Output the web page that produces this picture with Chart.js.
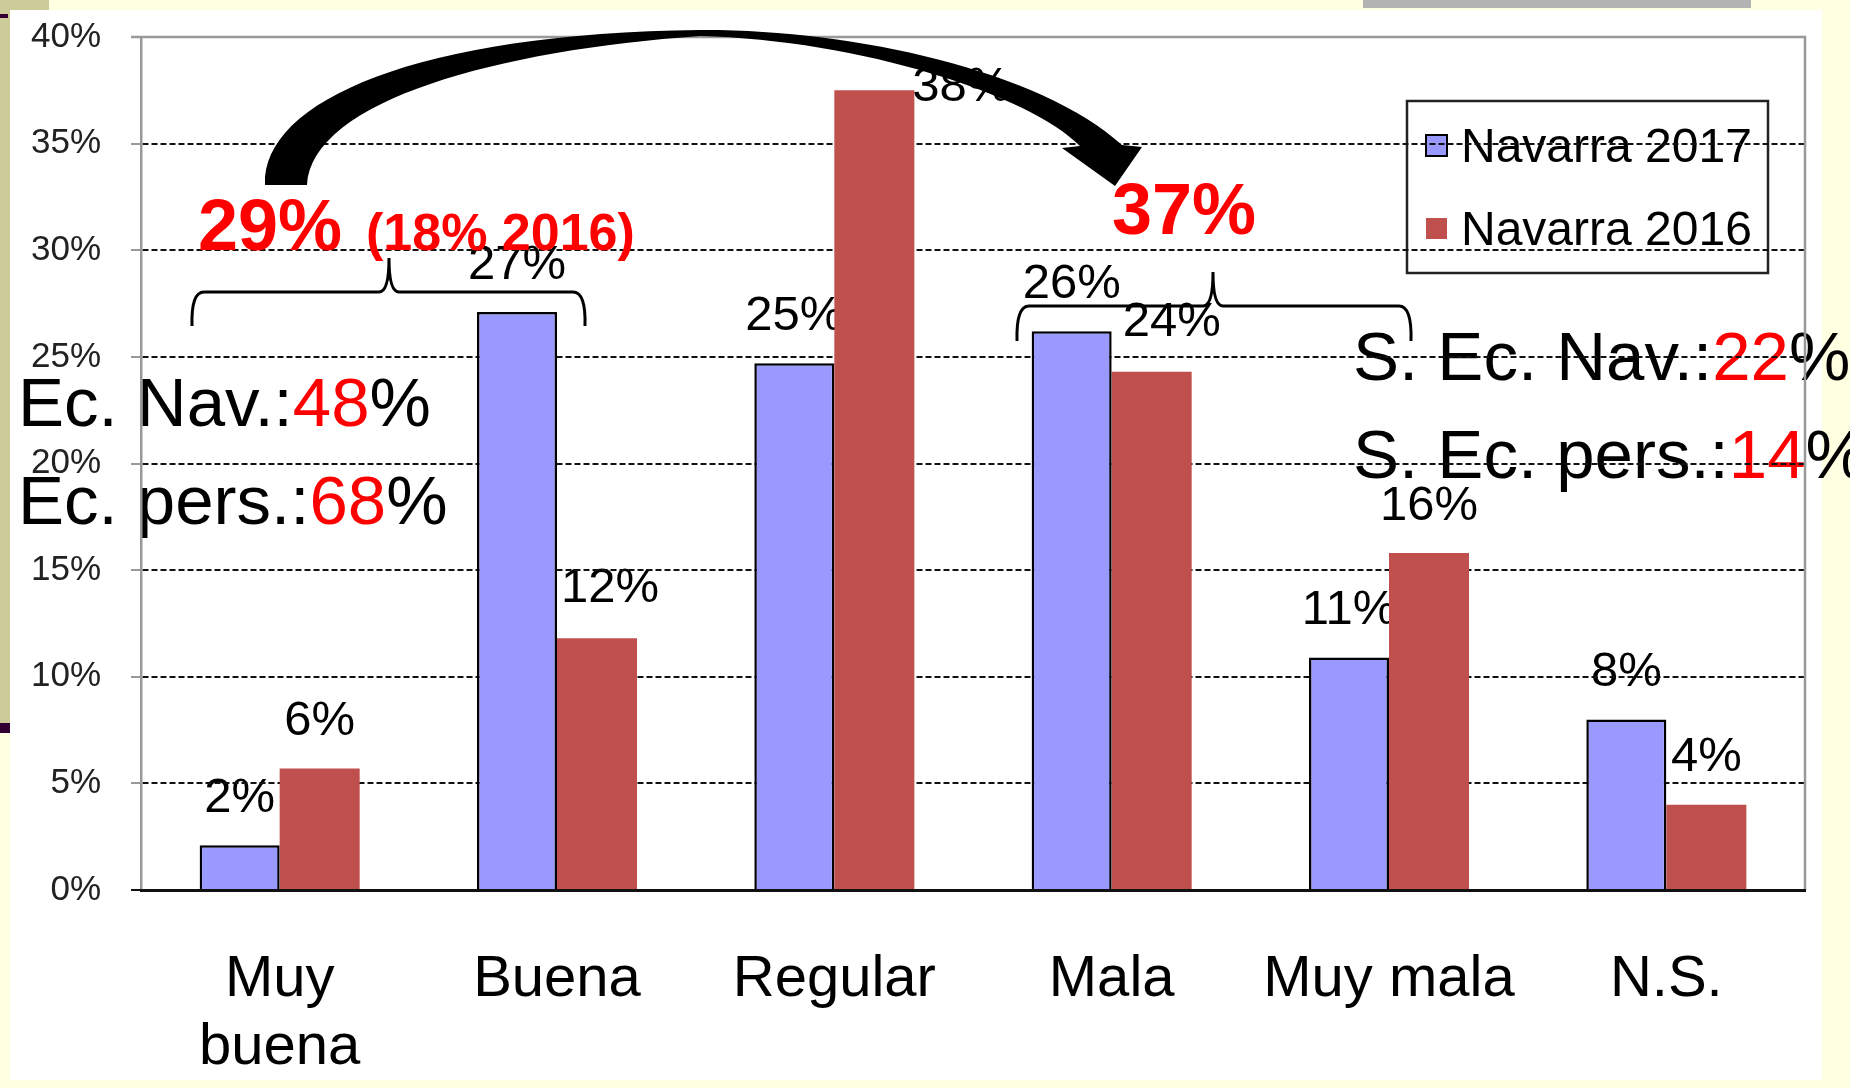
<!DOCTYPE html>
<html><head><meta charset="utf-8">
<script src="https://cdn.jsdelivr.net/npm/chart.js@4.4.0/dist/chart.umd.min.js"></script>
<style>
html,body{margin:0;padding:0;background:#FFFFE1;}
#wrap{position:relative;width:1850px;height:1088px;overflow:hidden;}
.d{position:absolute;}
canvas{position:absolute;left:0;top:0;}
</style></head><body>
<div id="wrap">
<div class="d" style="left:10px;top:10px;width:1812px;height:1070px;background:#fff"></div>
<div class="d" style="left:0;top:0;width:10px;height:723px;background:#CCCC99"></div>
<div class="d" style="left:0;top:0;width:49px;height:10px;background:#CCCC99"></div>
<div class="d" style="left:0;top:723px;width:10px;height:10px;background:#330033"></div>
<div class="d" style="left:0;top:14px;width:8px;height:4px;background:#330033"></div>
<div class="d" style="left:1363px;top:0;width:388px;height:8px;background:#B3B3B3"></div>
<canvas id="c" width="1850" height="1088"></canvas>
</div>
<script>
// ---- data ----
const categories = [['Muy','buena'], 'Buena', 'Regular', 'Mala', 'Muy mala', 'N.S.'];
const seriesLabels = ['Navarra 2017', 'Navarra 2016'];
const series2017 = [2.1, 27.1, 24.7, 26.2, 10.9, 8.0];
const series2016 = [5.7, 11.8, 37.5, 24.3, 15.8, 4.0];
const yTickValues = [0, 5, 10, 15, 20, 25, 30, 35, 40];
const leftNotes = [['Ec. Nav.:', '48', '%'], ['Ec. pers.:', '68', '%']];
const rightNotes = [['S. Ec. Nav.:', '22', '%'], ['S. Ec. pers.:', '14', '%']];
const positiveTotal = ['29%', '(18% 2016)'];
const negativeTotal = ['37%'];

// ---- styles ----
const FONT = '"Liberation Sans", Arial, Helvetica, sans-serif';
const COL17 = '#9999FF', COL16 = '#C0504D';
const labelShift = {'1-2': [87, 44], '1-1': [13, -3], '1-3': [20, -2]};

function segs(ctx, parts, colors, x, y) {
  parts.forEach((t, i) => { ctx.fillStyle = colors[i]; ctx.fillText(t, x, y); x += ctx.measureText(t).width; });
}

const underlay = {
  id: 'underlay',
  beforeDraw(chart) {
    const ctx = chart.ctx;
    ctx.save();
    // value labels
    ctx.font = '49px ' + FONT;
    ctx.textAlign = 'center'; ctx.textBaseline = 'middle'; ctx.fillStyle = '#000';
    chart.data.datasets.forEach((ds, di) => {
      chart.getDatasetMeta(di).data.forEach((el, i) => {
        const s = labelShift[di + '-' + i] || [0, 0];
        ctx.fillText(Math.round(ds.data[i]) + '%', el.x + s[0], el.y - 47 + s[1]);
      });
    });
    // notes
    ctx.textAlign = 'left'; ctx.textBaseline = 'alphabetic';
    ctx.font = '69px ' + FONT;
    const cols = ['#000', '#FF0000', '#000'];
    segs(ctx, leftNotes[0], cols, 18, 426);
    segs(ctx, leftNotes[1], cols, 18, 524);
    segs(ctx, rightNotes[0], cols, 1353, 380);
    segs(ctx, rightNotes[1], cols, 1353, 478);
    // legend
    ctx.lineWidth = 2.5; ctx.strokeStyle = '#222';
    ctx.strokeRect(1407, 101, 361, 172);
    ctx.font = '48px ' + FONT;
    chart.data.datasets.forEach((ds, di) => {
      const sy = di === 0 ? 135 : 218;
      ctx.fillStyle = ds.backgroundColor;
      ctx.fillRect(1426, sy, 21, 21);
      if (ds.borderWidth) { ctx.lineWidth = 2; ctx.strokeStyle = '#000'; ctx.strokeRect(1426, sy, 21, 21); }
      ctx.fillStyle = '#000';
      ctx.fillText(ds.label, 1461, di === 0 ? 162 : 245);
    });
    ctx.restore();
  }
};

const frame = {
  id: 'frame',
  beforeDatasetsDraw(chart) {
    const {ctx, chartArea: a} = chart;
    ctx.save();
    ctx.strokeStyle = '#999'; ctx.lineWidth = 2.5;
    ctx.beginPath();
    ctx.moveTo(a.left - 10, a.top); ctx.lineTo(a.right, a.top); ctx.lineTo(a.right, a.bottom);
    ctx.stroke();
    ctx.restore();
  }
};

function brace(ctx, x1, x2, xc, yh, yb, yt) {
  ctx.beginPath();
  ctx.moveTo(x1, yb);
  ctx.quadraticCurveTo(x1 - 1, yh, x1 + 12, yh);
  ctx.lineTo(xc - 10, yh);
  ctx.quadraticCurveTo(xc, yh, xc, yt);
  ctx.quadraticCurveTo(xc, yh, xc + 10, yh);
  ctx.lineTo(x2 - 12, yh);
  ctx.quadraticCurveTo(x2 + 1, yh, x2, yb);
  ctx.stroke();
}

const overlay = {
  id: 'overlay',
  afterDraw(chart) {
    const ctx = chart.ctx;
    ctx.save();
    // braces
    ctx.strokeStyle = '#000'; ctx.lineWidth = 3;
    brace(ctx, 192, 585, 389, 292, 326, 258);
    brace(ctx, 1017, 1411, 1213, 306, 341, 272);
    // curved arrow
    ctx.fillStyle = '#000';
    ctx.beginPath();
    ctx.moveTo(265, 185);
    ctx.bezierCurveTo(262, 100, 420, 33, 700, 30);
    ctx.bezierCurveTo(850, 29, 1040, 70, 1122, 145);
    ctx.lineTo(1142, 147);
    ctx.lineTo(1115, 186);
    ctx.lineTo(1062, 148);
    ctx.lineTo(1080, 146);
    ctx.bezierCurveTo(1030, 95, 860, 40, 700, 36);
    ctx.bezierCurveTo(500, 50, 312, 100, 307, 185);
    ctx.closePath();
    ctx.fill();
    // red totals
    ctx.fillStyle = '#FF0000'; ctx.textAlign = 'left'; ctx.textBaseline = 'alphabetic';
    ctx.font = 'bold 72px ' + FONT;
    ctx.fillText(positiveTotal[0], 198, 250);
    ctx.fillText(negativeTotal[0], 1112, 234);
    ctx.font = 'bold 52px ' + FONT;
    ctx.fillText(positiveTotal[1], 366, 250);
    ctx.restore();
  }
};

new Chart(document.getElementById('c'), {
  type: 'bar',
  data: {
    labels: categories,
    datasets: [
      {label: seriesLabels[0], data: series2017, backgroundColor: COL17, borderColor: '#000', borderWidth: 2.5},
      {label: seriesLabels[1], data: series2016, backgroundColor: COL16, borderWidth: 0}
    ]
  },
  options: {
    responsive: false, animation: false, devicePixelRatio: 1,
    layout: {padding: {top: 37, right: 45, left: 0, bottom: 0}},
    datasets: {bar: {categoryPercentage: 0.577, barPercentage: 1}},
    plugins: {legend: {display: false}, tooltip: {enabled: false}},
    scales: {
      x: {
        grid: {display: false, drawTicks: false},
        border: {display: true, color: '#111', width: 3, z: 1},
        ticks: {color: '#000', font: {family: FONT, size: 58, lineHeight: 1.17}, padding: 56, maxRotation: 0, autoSkip: false},
        afterFit: s => { s.height = 198; }
      },
      y: {
        min: 0, max: 40,
        afterBuildTicks: s => { s.ticks = yTickValues.map(v => ({value: v})); },
        grid: {
          color: c => (c.tick && (c.tick.value === 0 || c.tick.value === 40)) ? 'rgba(0,0,0,0)' : '#111',
          lineWidth: 2, tickLength: 10,
          tickColor: c => (c.tick && c.tick.value === 0) ? '#111' : '#999'
        },
        border: {display: true, color: '#999', width: 2.5, dash: [6, 3]},
        ticks: {color: '#222', font: {family: FONT, size: 35}, padding: 30, callback: v => v + '%'},
        afterFit: s => { s.width = 141; s.paddingTop = 0; s.paddingBottom = 0; }
      }
    }
  },
  plugins: [underlay, frame, overlay]
});
</script>
</body></html>
